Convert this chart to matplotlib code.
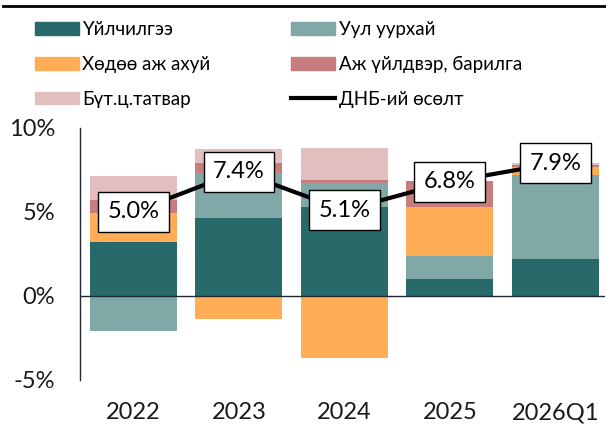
import matplotlib.pyplot as plt
import numpy as np
from matplotlib.lines import Line2D
from matplotlib.patches import Patch

plt.rcParams['font.family'] = ['Lato', 'DejaVu Sans']

years = ["2022", "2023", "2024", "2025", "2026Q1"]
services = [3.23, 4.66, 5.32, 1.01, 2.20]
mining = [-2.08, 2.64, 1.39, 1.39, 4.98]
agriculture = [1.69, -1.35, -3.67, 2.92, 0.48]
industry = [0.79, 0.64, 0.20, 1.53, 0.12]
taxes = [1.43, 0.81, 1.89, 0.00, 0.16]
gdp_growth = [5.0, 7.4, 5.1, 6.8, 7.9]

series = [
    ("Үйлчилгээ", services, "#286a6a"),
    ("Уул уурхай", mining, "#80a8a6"),
    ("Хөдөө аж ахуй", agriculture, "#ffad57"),
    ("Аж үйлдвэр, барилга", industry, "#c77d7d"),
    ("Бүт.ц.татвар", taxes, "#e2bfbf"),
]

fig = plt.figure(figsize=(6.06, 4.25), dpi=100)
ax = fig.add_axes([0.132, 0.106, 0.866, 0.593])

x = np.arange(len(years))
pos_base = np.zeros(len(years))
neg_base = np.zeros(len(years))
for label, vals, color in series:
    vals = np.array(vals)
    # positives stack upwards, negatives stack downwards from zero
    bottoms = np.where(vals >= 0, pos_base, neg_base)
    ax.bar(x, vals, bottom=bottoms, width=0.825, color=color, zorder=2)
    pos_base += np.clip(vals, 0, None)
    neg_base += np.clip(vals, None, 0)

ax.plot(x, gdp_growth, color="black", lw=3, zorder=3)
for xi, v in zip(x, gdp_growth):
    ax.text(xi, v, f"{v:.1f}%", ha="center", va="center", fontsize=17, zorder=4,
            bbox=dict(boxstyle="square,pad=0.4", fc="white", ec="black", lw=1))

ax.axhline(0, color="#1f2a36", lw=1, zorder=2)
ax.set_xlim(-0.507, 4.47)
ax.set_ylim(-5, 10)
ax.set_yticks([-5, 0, 5, 10])
ax.set_yticklabels(["-5%", "0%", "5%", "10%"])
ax.set_xticks(x)
ax.set_xticklabels(years)
ax.tick_params(axis="both", length=0, labelsize=17, colors="#1a1a1a")
ax.tick_params(axis="y", pad=18)
ax.tick_params(axis="x", pad=16)
for s in ["top", "right", "bottom"]:
    ax.spines[s].set_visible(False)
ax.spines["left"].set_color("#1f2a36")
ax.spines["left"].set_linewidth(1)

# legend, filled column-wise
patches = {lab: Patch(color=c) for lab, _, c in series}
handles = [patches["Үйлчилгээ"], patches["Хөдөө аж ахуй"], patches["Бүт.ц.татвар"],
           patches["Уул уурхай"], patches["Аж үйлдвэр, барилга"],
           Line2D([0], [0], color="black", lw=3)]
labels = ["Үйлчилгээ", "Хөдөө аж ахуй", "Бүт.ц.татвар",
          "Уул уурхай", "Аж үйлдвэр, барилга", "ДНБ-ий өсөлт"]
fig.legend(handles, labels, ncol=2, loc="upper left", bbox_to_anchor=(0.03, 0.99),
           frameon=False, fontsize=13.5, handlelength=2.35, handleheight=0.64,
           handletextpad=0.18, labelspacing=0.95, columnspacing=4.3)

fig.add_artist(Line2D([0.005, 1.0], [0.987, 0.987], transform=fig.transFigure,
                      color="black", lw=2))

fig.savefig("out.png", dpi=100)
